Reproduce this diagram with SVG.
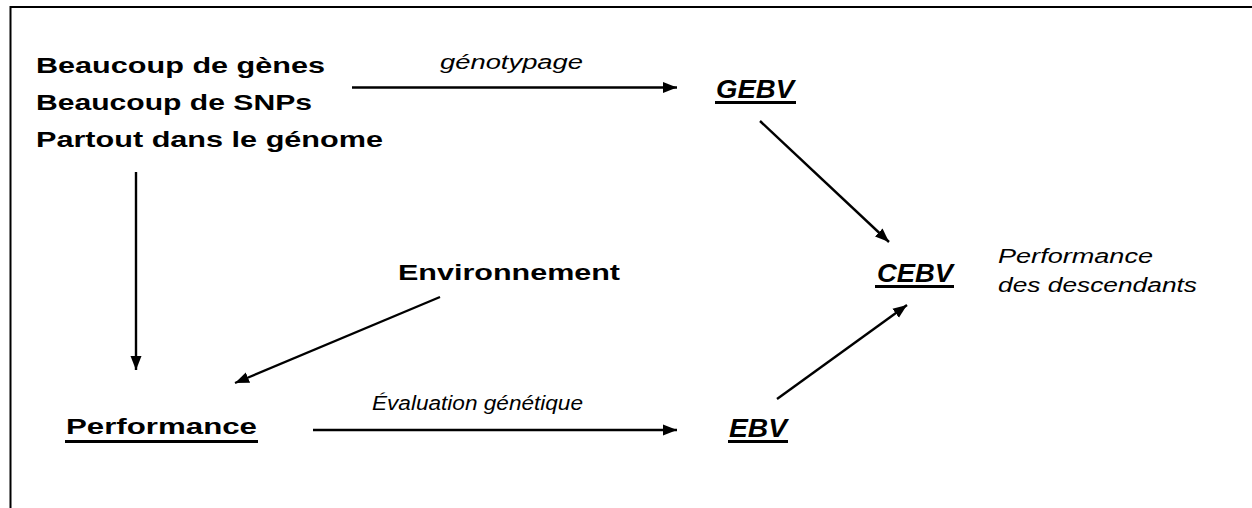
<svg xmlns="http://www.w3.org/2000/svg" width="1252" height="508" viewBox="0 0 1252 508">
<defs>
<marker id="ah" markerUnits="userSpaceOnUse" markerWidth="15" markerHeight="12" refX="14" refY="6" orient="auto">
<path d="M0,0.5 L14,6 L0,11.5 Z" fill="#000"/>
</marker>
<style>
.b{font-family:"Liberation Sans",Arial,sans-serif;font-weight:bold;font-size:21.5px;fill:#000}
.bi{font-family:"Liberation Sans",Arial,sans-serif;font-weight:bold;font-style:italic;font-size:25px;fill:#000}
.i{font-family:"Liberation Sans",Arial,sans-serif;font-style:italic;font-size:20.5px;fill:#000}
.c{stroke:#000;stroke-width:2.4;fill:none;marker-end:url(#ah)}
.u{stroke:#000;stroke-width:3}
</style>
</defs>
<rect width="1252" height="508" fill="#fff"/>
<path d="M10.5,508 V7 H1252" stroke="#000" stroke-width="2" fill="none"/>
<g id="genes">
<text class="b" x="36" y="73" textLength="289" lengthAdjust="spacingAndGlyphs">Beaucoup de gènes</text>
<text class="b" x="36" y="110" textLength="276" lengthAdjust="spacingAndGlyphs">Beaucoup de SNPs</text>
<text class="b" x="36" y="147" textLength="347" lengthAdjust="spacingAndGlyphs">Partout dans le génome</text>
</g>
<g id="gebv">
<text class="bi" x="716" y="98" textLength="78" lengthAdjust="spacingAndGlyphs">GEBV</text>
<line class="u" x1="715" y1="102.5" x2="796" y2="102.5"/>
</g>
<g id="environnement">
<text class="b" x="398" y="280" textLength="222" lengthAdjust="spacingAndGlyphs">Environnement</text>
</g>
<g id="cebv">
<text class="bi" x="877" y="282" textLength="76" lengthAdjust="spacingAndGlyphs">CEBV</text>
<line class="u" x1="875" y1="286.5" x2="954" y2="286.5"/>
</g>
<g id="descendants">
<text class="i" x="998" y="263" textLength="155" lengthAdjust="spacingAndGlyphs">Performance</text>
<text class="i" x="998" y="292" textLength="199" lengthAdjust="spacingAndGlyphs">des descendants</text>
</g>
<g id="performance">
<text class="b" x="66" y="434" textLength="191" lengthAdjust="spacingAndGlyphs">Performance</text>
<line class="u" x1="65" y1="441.5" x2="258" y2="441.5"/>
</g>
<g id="ebv">
<text class="bi" x="729" y="437" textLength="58" lengthAdjust="spacingAndGlyphs">EBV</text>
<line class="u" x1="728" y1="441.5" x2="788" y2="441.5"/>
</g>
<g id="connectors">
<line class="c" x1="352" y1="87.5" x2="677" y2="87.5"/>
<text class="i" x="440" y="69" textLength="143" lengthAdjust="spacingAndGlyphs">génotypage</text>
<line class="c" x1="760" y1="121" x2="889" y2="242"/>
<line class="c" x1="136" y1="172" x2="136" y2="370"/>
<line class="c" x1="440" y1="297" x2="235" y2="383"/>
<line class="c" x1="313" y1="430" x2="677" y2="430"/>
<text class="i" x="372" y="410" textLength="211" lengthAdjust="spacingAndGlyphs">Évaluation génétique</text>
<line class="c" x1="777" y1="399" x2="907" y2="305"/>
</g>
</svg>
